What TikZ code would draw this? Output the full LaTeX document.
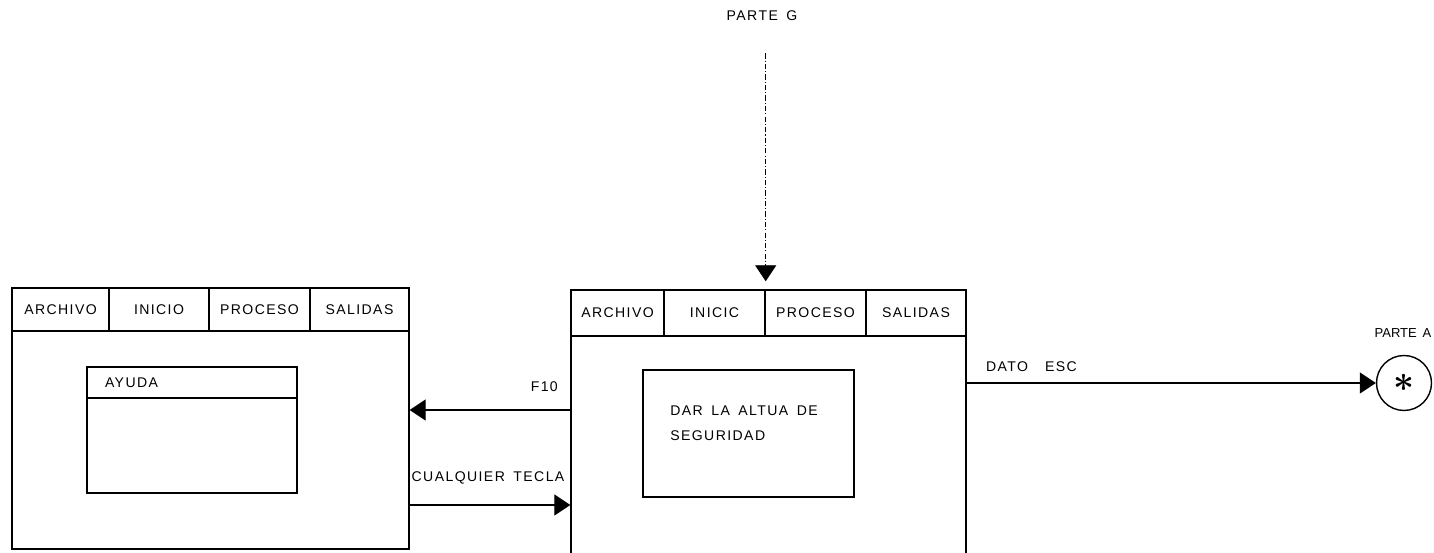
\documentclass[tikz,border=0pt]{standalone}
\usepackage{fontspec}
\setmainfont{Liberation Sans}[LetterSpace=10, WordSpace=1.6]
\usepackage{amsmath}
\usetikzlibrary{arrows.meta, positioning, calc}

\begin{document}
\begin{tikzpicture}[
    x=0.02cm, y=-0.02cm,
    >={Triangle[length=0.32cm, width=0.42cm]},
    win/.style={rectangle, draw=black, line width=0.8pt, inner sep=0pt},
    menu/.style={rectangle, draw=black, line width=0.8pt, inner sep=0pt, font=\fontsize{8}{9}\selectfont},
    pane/.style={rectangle, draw=black, line width=0.8pt, inner sep=0pt, font=\fontsize{8}{9}\selectfont},
    conn/.style={circle, draw=black, line width=0.8pt, inner sep=0pt, minimum size=1.1cm, font=\fontsize{20}{20}\selectfont\boldmath},
    lbl/.style={inner sep=0pt, font=\fontsize{8}{9}\selectfont},
    arrow/.style={->, line width=0.6pt, draw=black},
    dasharrow/.style={->, line width=0.5pt, draw=black, dash pattern=on 3pt off 1.2pt on 0.6pt off 1.2pt}
]
\useasboundingbox (0,0) rectangle (1434,553);

% VENTANA DE AYUDA
\node[win, minimum width=7.94cm, minimum height=5.22cm] (lw) at (210.5,418.5) {};
\node[menu, minimum width=1.94cm, minimum height=0.86cm] (lm1) at (60.5,309.5) {ARCHIVO};
\node[menu, minimum width=2.0cm, minimum height=0.86cm] (lm2) at (159,309.5) {INICIO};
\node[menu, minimum width=2.02cm, minimum height=0.86cm] (lm3) at (259.5,309.5) {PROCESO};
\node[menu, minimum width=1.98cm, minimum height=0.86cm] (lm4) at (359.5,309.5) {SALIDAS};
\node[pane, minimum width=4.2cm, minimum height=2.52cm] (ayuda) at (192,430) {};
\node[pane, anchor=north, minimum width=4.2cm, minimum height=0.62cm, text width=3.48cm, inner xsep=0.36cm, align=left] (ayudatit) at (ayuda.north) {AYUDA};

% VENTANA PRINCIPAL
\node[win, minimum width=7.9cm, minimum height=5.8cm] (rw) at (768.5,435) {};
\node[menu, minimum width=1.86cm, minimum height=0.92cm] (rm1) at (617.5,313) {ARCHIVO};
\node[menu, minimum width=2.02cm, minimum height=0.92cm] (rm2) at (714.5,313) {INICIC};
\node[menu, minimum width=2.02cm, minimum height=0.92cm] (rm3) at (815.5,313) {PROCESO};
\node[menu, minimum width=2.0cm, minimum height=0.92cm] (rm4) at (916,313) {SALIDAS};
\node[pane, minimum width=4.22cm, minimum height=2.54cm] (dar) at (748.5,433.5) {};
\node[lbl, align=left, anchor=west, font=\fontsize{8}{14.2}\selectfont] (dartxt) at (670,423.5) {DAR LA ALTUA DE\\SEGURIDAD};

% CONECTORES
\node[lbl] (pg) at (762,16) {PARTE G};
\node[conn] (pa) at (1404,383) {$\ast$};
\node[lbl, font=\fontsize{7.4}{9}\selectfont\addfontfeature{LetterSpace=0}] (pal) at (1403,333) {PARTE A};
\coordinate (f10y) at (0,410);
\coordinate (teclay) at (0,505);

\draw[dasharrow, shorten <=0.64cm, shorten >=0.16cm] (pg.south -| rm2.north east) -- (rm2.north east);
\draw[arrow] (rw.west |- f10y) -- node[lbl, pos=0, anchor=south east, xshift=-0.24cm, yshift=0.36cm] {F10} (lw.east |- f10y);
\draw[arrow] (lw.east |- teclay) -- node[lbl, pos=0, anchor=south west, xshift=0.03cm, yshift=0.4cm] {CUALQUIER TECLA} (rw.west |- teclay);
\draw[arrow] (rw.east |- pa.west) -- node[lbl, pos=0, anchor=south west, xshift=0.38cm, yshift=0.22cm] {DATO\ \ ESC} (pa.west);

\end{tikzpicture}
\end{document}
